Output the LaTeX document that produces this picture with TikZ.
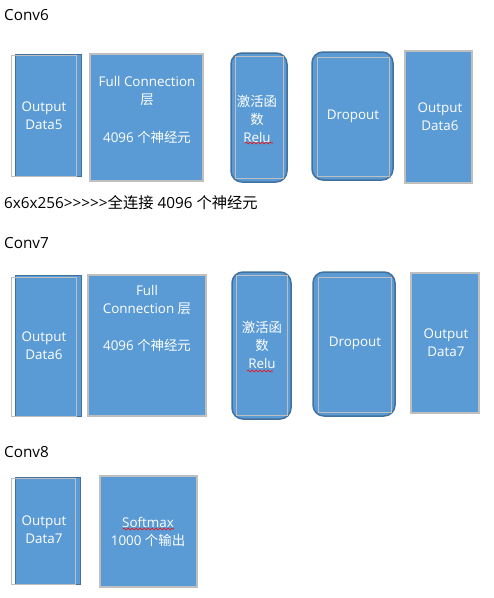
\documentclass[tikz,border=0pt]{standalone}
\usepackage{fontspec}
\setmainfont{Open Sans}
\newfontfamily\nomap{Open Sans}
\newfontfamily\cjk{Noto Sans CJK SC}
\usetikzlibrary{decorations.pathmorphing}
\definecolor{boxblue}{HTML}{5B9BD5}
\definecolor{darkblue}{HTML}{41719C}
\definecolor{lgray}{HTML}{BFBFBF}
\tikzset{
  head/.style={anchor=west, inner sep=0pt, font=\fontsize{15.3}{18}\selectfont, text=black},
  lbl/.style={align=center, inner sep=0pt, text=white, font=\fontsize{13.4}{18}\selectfont},
  leftblue/.style={fill=boxblue, draw=darkblue, line width=1pt},
  leftgray/.style={draw=lgray, line width=0.9pt},
  grayblue/.style={fill=boxblue, draw=lgray, line width=1.5pt},
  roundblue/.style={fill=boxblue, draw=darkblue, line width=1.5pt, rounded corners=11pt},
  innergray/.style={draw=lgray, line width=0.9pt},
  squiggle/.style={draw=red, line width=0.6pt, decorate, decoration={snake, amplitude=0.9pt, segment length=4pt}}
}
\begin{document}
\begin{tikzpicture}[x=1pt,y=-1pt]
\useasboundingbox (0,0) rectangle (494,598);
\fill[white] (0,0) rectangle (494,598);

% ---------- Conv6 ----------
\node[head] (h6) at (4,15) {Conv6};

\path[leftblue] (15,54) rectangle (81,176);
\path[leftgray] (11,55) rectangle (76,176);
\node[lbl] (d5) at (44,116) {Output\\Data5};

\path[grayblue] (90,54) rectangle (203,181);
\node[lbl] (fc6a) at (147,91) {Full Connection\\{\cjk 层}};
\node[lbl] (fc6b) at (147,137) {4096 {\cjk 个神经元}};

\path[roundblue] (231,53) rectangle (287,182);
\path[innergray] (235,56) rectangle (283,178);
\node[lbl] (relu6) at (257,119) {{\cjk 激活函}\\{\cjk 数}\\Relu};
\path[squiggle] (245,143) -- (273,143);

\path[roundblue] (312,52) rectangle (393,180);
\path[innergray] (317,57) rectangle (389,176);
\node[lbl] (drop6) at (353,116) {Dropout};

\path[grayblue] (405,51) rectangle (472,183);
\node[lbl] (d6) at (440,117) {Output\\Data6};

\node[head] (note) at (4,203) {\nomap 6x6x256>>>>>{\cjk 全连接} 4096 {\cjk 个神经元}};

% ---------- Conv7 ----------
\node[head] (h7) at (4,243) {Conv7};

\path[leftblue] (15,275) rectangle (81,416);
\path[leftgray] (11,277) rectangle (76,416);
\node[lbl] (d6b) at (44,346) {Output\\Data6};

\path[grayblue] (88,275) rectangle (206,416);
\node[lbl] (fc7a) at (147,300) {Full\\Connection {\cjk 层}};
\node[lbl] (fc7b) at (147,345) {4096 {\cjk 个神经元}};

\path[roundblue] (232,272) rectangle (291,419);
\path[innergray] (236,275) rectangle (287,415);
\node[lbl] (relu7) at (262,345) {{\cjk 激活函}\\{\cjk 数}\\Relu};
\path[squiggle] (247,371) -- (273,371);

\path[roundblue] (313,272) rectangle (395,416);
\path[innergray] (318,277) rectangle (391,412);
\node[lbl] (drop7) at (355,343) {Dropout};

\path[grayblue] (411,273) rectangle (479,413);
\node[lbl] (d7) at (446,343) {Output\\Data7};

% ---------- Conv8 ----------
\node[head] (h8) at (4,452) {Conv8};

\path[leftblue] (15,477) rectangle (80,584);
\path[leftgray] (11,478) rectangle (75,584);
\node[lbl] (d7b) at (44,530) {Output\\Data7};

\path[grayblue] (100,476) rectangle (197,587);
\node[lbl] (soft) at (148,532) {Softmax\\1000 {\cjk 个输出}};
\path[squiggle] (123,529) -- (174,529);
\end{tikzpicture}
\end{document}
